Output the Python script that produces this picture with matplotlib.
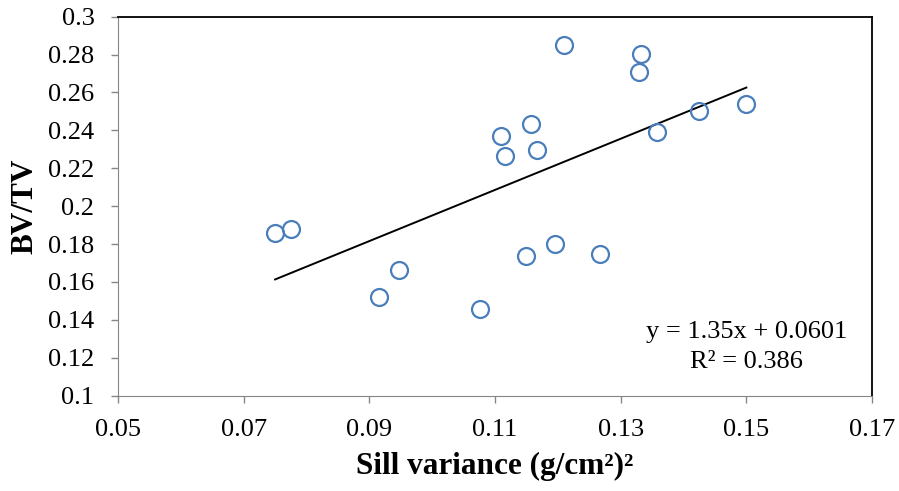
import numpy as np
import matplotlib.pyplot as plt

plt.rcParams['font.family'] = ['Liberation Serif', 'DejaVu Serif']

# sill variance (g/cm2)^2 vs BV/TV
sill = [0.0750, 0.0775, 0.0915, 0.0947, 0.1076, 0.1110, 0.1116, 0.1158, 0.1167,
        0.1149, 0.1196, 0.1209, 0.1267, 0.1329, 0.1333, 0.1357, 0.1424, 0.1500]
bvtv = [0.1860, 0.1881, 0.1522, 0.1663, 0.1459, 0.2369, 0.2265, 0.2432, 0.2298,
        0.1737, 0.1801, 0.2849, 0.1746, 0.2708, 0.2803, 0.2393, 0.2501, 0.2538]

slope = 1.35
intercept = 0.0601
r2 = 0.386

fig = plt.figure(figsize=(8.99, 4.91), dpi=100)
ax = fig.add_axes([0.1313, 0.1941, 0.8387, 0.7719])

xs = np.array([min(sill), max(sill)])
ax.plot(xs, slope * xs + intercept, color='black', lw=1.4, zorder=2)
ax.plot(sill, bvtv, 'o', ms=12.2, mfc='none', mec='#4a7ebb', mew=1.6, zorder=3)

ax.set_xlim(0.05, 0.17)
ax.set_ylim(0.1, 0.3)
ax.set_xticks(np.arange(0.05, 0.171, 0.02))
ax.set_xticklabels(['0.05', '0.07', '0.09', '0.11', '0.13', '0.15', '0.17'])
ax.set_yticks(np.arange(0.1, 0.301, 0.02))
ax.set_yticklabels(['0.1', '0.12', '0.14', '0.16', '0.18', '0.2',
                    '0.22', '0.24', '0.26', '0.28', '0.3'])
ax.tick_params(labelsize=19, length=5, width=1, color='#868686', direction='out', pad=12)

for s in ['left', 'bottom']:
    ax.spines[s].set_color('#868686')
for s in ['top', 'right']:
    ax.spines[s].set_color('black')
    ax.spines[s].set_linewidth(1.3)

ax.set_xlabel('Sill variance (g/cm²)²', fontsize=22.5, fontweight='bold', labelpad=8)
ax.set_ylabel('BV/TV', fontsize=22.5, fontweight='bold', labelpad=6)

ax.text(0.15, 0.1338, 'y = %.2fx + %.4f' % (slope, intercept), fontsize=19,
        ha='center', va='center')
ax.text(0.15, 0.1179, 'R² = %.3f' % r2, fontsize=19, ha='center', va='center')

fig.savefig('out.png', dpi=100)
